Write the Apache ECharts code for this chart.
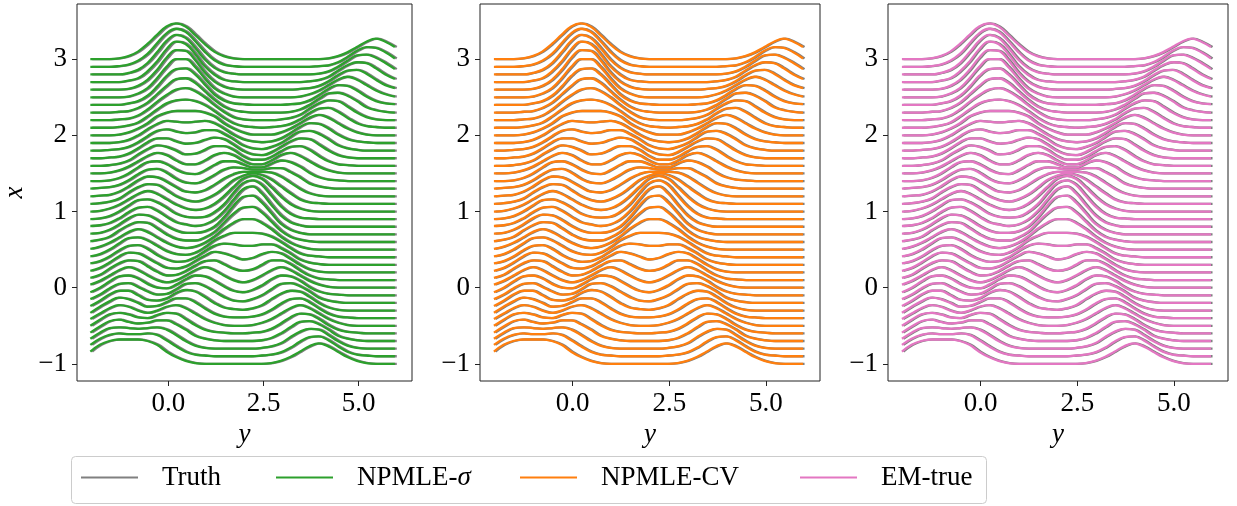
<!DOCTYPE html>
<html>
<head>
<meta charset="utf-8">
<script src="https://cdn.jsdelivr.net/npm/echarts@6/dist/echarts.min.js"></script>
<style>
html,body{margin:0;padding:0;background:#fff;}
#chart{width:1237px;height:506px;}
</style>
</head>
<body>
<div id="chart"></div>
<script>
// ---------------- data ----------------
// horizontal positions (the "y" variable) at which every curve is sampled
const yGrid = [-2,-1.75,-1.5,-1.25,-1,-0.75,-0.5,-0.25,0,0.25,0.5,0.75,1,1.25,1.5,1.75,2,2.25,2.5,2.75,3,3.25,3.5,3.75,4,4.25,4.5,4.75,5,5.25,5.5,5.75,6];
// baseline of every ridge curve (the "x" variable)
const xLevels = [-1,-0.9,-0.8,-0.7,-0.6,-0.5,-0.4,-0.3,-0.2,-0.1,0,0.1,0.2,0.3,0.4,0.5,0.6,0.7,0.8,0.9,1,1.1,1.2,1.3,1.4,1.5,1.6,1.7,1.8,1.9,2,2.1,2.2,2.3,2.4,2.5,2.6,2.7,2.8,2.9,3];
// true conditional density heights above each baseline, in hundredths (one row per curve, bottom to top)
const truthRows = [
[16,25,30,32,32,32,30,25,16,9,4,1,0,0,0,0,0,0,0,1,4,9,16,23,27,23,16,9,4,1,0,0,0],
[15,23,28,30,29,29,30,28,21,13,6,2,1,0,0,0,0,0,1,2,5,11,19,25,26,21,13,6,2,1,0,0,0],
[13,21,27,28,27,26,27,28,25,18,10,4,1,0,0,0,0,0,1,3,7,15,22,26,25,18,10,4,1,0,0,0,0],
[11,19,26,28,25,23,24,27,27,22,15,7,3,1,0,0,0,0,1,4,10,18,25,26,22,15,7,3,1,0,0,0,0],
[10,18,25,27,25,21,20,24,27,26,19,11,5,2,1,0,0,1,2,6,13,21,26,25,19,11,5,2,1,0,0,0,0],
[9,16,23,27,25,20,17,20,25,27,23,16,9,4,1,0,0,1,4,9,16,23,27,23,16,9,4,1,0,0,0,0,0],
[7,15,22,27,25,20,15,16,21,26,26,21,13,6,2,1,1,2,5,11,19,25,26,21,13,6,2,1,0,0,0,0,0],
[6,13,21,26,26,20,14,13,16,23,27,25,18,10,4,2,1,3,7,15,22,26,25,18,10,4,1,0,0,0,0,0,0],
[5,11,19,25,26,21,15,11,12,18,25,26,22,15,8,3,2,5,10,18,25,26,22,15,7,3,1,0,0,0,0,0,0],
[4,10,18,25,26,22,15,10,9,14,21,26,25,19,12,6,4,7,13,21,26,25,19,11,5,2,1,0,0,0,0,0,0],
[4,9,16,23,27,23,16,10,7,10,16,23,27,23,16,10,7,10,16,23,27,23,16,9,4,1,0,0,0,0,0,0,0],
[3,7,15,22,26,25,18,11,6,7,12,19,25,26,21,15,12,14,20,26,26,21,13,6,2,1,0,0,0,0,0,0,0],
[2,6,13,21,26,25,19,12,6,5,8,15,22,27,25,21,17,19,24,27,25,18,10,4,1,0,0,0,0,0,0,0,0],
[2,5,11,19,25,26,21,13,7,4,5,10,18,25,28,27,25,25,27,27,22,15,7,3,1,0,0,0,0,0,0,0,0],
[1,4,10,18,25,26,22,15,8,4,3,6,13,22,28,32,32,32,31,27,20,12,5,2,1,0,0,0,0,0,0,0,0],
[1,4,9,16,23,27,23,16,9,4,2,4,9,17,27,35,40,40,35,27,17,9,4,1,0,0,0,0,0,0,0,0,0],
[1,3,7,15,22,26,25,18,10,4,2,2,6,13,25,37,45,46,39,27,15,7,3,1,0,0,0,0,0,0,0,0,0],
[1,2,6,13,21,26,25,19,11,5,2,2,4,10,22,37,49,51,42,28,14,6,2,0,0,0,0,0,0,0,0,0,0],
[1,2,5,11,19,25,26,21,13,6,3,1,3,9,20,35,49,53,44,29,15,6,2,0,0,0,0,0,0,0,0,0,0],
[0,1,4,10,18,25,26,22,15,7,3,2,3,9,19,34,47,51,45,31,17,7,2,1,0,0,0,0,0,0,0,0,0],
[0,1,4,9,16,23,27,23,16,9,4,2,4,10,20,32,43,47,43,32,20,10,4,1,0,0,0,0,0,0,0,0,0],
[0,1,3,7,15,22,26,25,18,10,5,3,6,12,21,31,37,40,38,32,23,14,6,2,1,0,0,0,0,0,0,0,0],
[0,1,2,6,13,21,26,25,19,12,6,5,8,15,23,29,32,32,32,31,26,18,10,4,1,0,0,0,0,0,0,0,0],
[0,1,2,5,11,19,25,26,21,13,8,7,11,18,25,28,27,25,25,27,27,22,15,7,3,1,0,0,0,0,0,0,0],
[0,0,1,4,10,18,25,26,22,15,10,9,14,21,26,26,22,18,18,23,27,25,19,11,5,2,1,0,0,0,0,0,0],
[0,0,1,4,9,16,23,27,24,17,12,12,17,24,27,24,17,12,12,17,24,27,23,16,9,4,1,0,0,0,0,0,0],
[0,0,1,3,7,15,22,27,25,20,15,16,21,26,26,21,13,8,8,12,19,25,26,21,13,6,2,1,0,0,0,0,0],
[0,0,1,2,6,13,21,26,26,22,19,20,24,27,25,18,10,5,4,8,15,22,26,25,18,10,4,1,0,0,0,0,0],
[0,0,1,2,5,11,19,26,28,25,23,24,27,27,22,15,7,3,2,5,10,18,25,26,22,15,7,3,1,0,0,0,0],
[0,0,0,1,4,10,18,25,29,28,27,28,29,26,19,11,5,2,1,2,6,13,21,26,25,19,11,5,2,1,0,0,0],
[0,0,0,1,4,9,16,25,30,32,32,32,30,25,16,9,4,1,1,1,4,9,16,23,27,23,16,9,4,1,0,0,0],
[0,0,0,1,3,7,15,24,32,36,37,35,30,22,13,6,2,1,0,1,2,5,11,19,25,26,21,13,6,2,1,0,0],
[0,0,0,1,2,6,14,24,33,40,42,38,30,20,11,4,1,0,0,0,1,3,7,15,22,26,25,18,10,4,1,0,0],
[0,0,0,1,2,6,13,24,35,44,45,39,28,17,8,3,1,0,0,0,0,1,4,10,18,25,26,22,15,7,3,1,0],
[0,0,0,0,2,5,12,24,38,47,48,40,27,14,6,2,1,0,0,0,0,1,2,6,13,21,26,25,19,11,5,2,1],
[0,0,0,0,1,5,12,25,40,50,50,40,25,12,5,1,0,0,0,0,0,0,1,4,9,16,23,27,23,16,9,4,1],
[0,0,0,0,1,5,13,26,42,52,51,39,23,11,4,1,0,0,0,0,0,0,1,2,5,11,19,25,26,21,13,6,2],
[0,0,0,0,2,5,14,27,43,53,50,37,21,10,3,1,0,0,0,0,0,0,0,1,3,7,15,22,26,25,18,10,4],
[0,0,0,0,2,6,15,29,44,52,48,35,20,9,3,1,0,0,0,0,0,0,0,0,1,4,10,18,25,26,22,15,7],
[0,0,0,1,3,8,17,31,44,50,46,34,20,9,3,1,0,0,0,0,0,0,0,0,1,2,6,13,21,26,25,19,11],
[0,0,0,1,4,10,20,32,43,47,43,32,20,10,4,1,0,0,0,0,0,0,0,0,0,1,4,9,16,23,27,23,16]
];
// estimated curves sit slightly to the left of the truth (offset along y, per panel)
const fitOffsetY = [-0.05, -0.04, -0.04];
const estimatorNames = ['NPMLE-σ', 'NPMLE-CV', 'EM-true'];
const truthName = 'Truth';
const xTickValues = [0, 2.5, 5];
const yTickValues = [-1, 0, 1, 2, 3];

// ---------------- styles / layout ----------------
const estimatorColors = ['#2ca02c', '#ff7f0e', '#e377c2'];
const truthColor = '#808080';
const FONT = '"Liberation Serif", "Times New Roman", Times, serif';
const gridLefts = [72, 480, 888];
const legendLefts = [81, 276, 520, 800];

const chart = echarts.init(document.getElementById('chart'), null, {renderer: 'canvas'});

const grids = [], xAxes = [], yAxes = [], series = [];
gridLefts.forEach((left, p) => {
  grids.push({left: left, top: 4, width: 340, height: 377, show: true,
    borderColor: '#222', borderWidth: 1, backgroundColor: 'transparent', containLabel: false});
  xAxes.push({
    type: 'value', gridIndex: p, min: -2.4, max: 6.4,
    name: 'y', nameLocation: 'middle', nameGap: 38,
    nameTextStyle: {fontFamily: FONT, fontStyle: 'italic', fontSize: 27, color: '#000'},
    axisLine: {show: false, onZero: false},
    axisTick: {show: true, inside: false, length: 5, lineStyle: {color: '#222', width: 1}, customValues: xTickValues},
    axisLabel: {show: true, customValues: xTickValues, margin: 9, fontFamily: FONT, fontSize: 27, color: '#000',
      formatter: v => v.toFixed(1)},
    splitLine: {show: false}
  });
  yAxes.push({
    type: 'value', gridIndex: p, min: -1.225, max: 3.725,
    name: p === 0 ? 'x' : '', nameLocation: 'middle', nameGap: 49, nameRotate: 90,
    nameTextStyle: {fontFamily: FONT, fontStyle: 'italic', fontSize: 27, color: '#000'},
    axisLine: {show: false, onZero: false},
    axisTick: {show: true, inside: false, length: 5, lineStyle: {color: '#222', width: 1}, customValues: yTickValues},
    axisLabel: {show: true, customValues: yTickValues, margin: 10, fontFamily: FONT, fontSize: 27, color: '#000',
      formatter: v => (v < 0 ? '\u2212' + Math.abs(v) : String(v))},
    splitLine: {show: false}
  });
  xLevels.forEach((base, i) => {
    const row = truthRows[i];
    series.push({
      type: 'line', name: truthName, xAxisIndex: p, yAxisIndex: p,
      data: yGrid.map((y, k) => [y, base + row[k] / 100]),
      showSymbol: false, symbol: 'none', smooth: 0.4, silent: true, animation: false,
      color: truthColor, itemStyle: {color: truthColor},
      lineStyle: {color: truthColor, width: 2.3}
    });
    series.push({
      type: 'line', name: estimatorNames[p], xAxisIndex: p, yAxisIndex: p,
      data: yGrid.map((y, k) => [y + fitOffsetY[p], base + row[k] / 100]),
      showSymbol: false, symbol: 'none', smooth: 0.4, silent: true, animation: false,
      color: estimatorColors[p], itemStyle: {color: estimatorColors[p]},
      lineStyle: {color: estimatorColors[p], width: 2.3}
    });
  });
});

const legendNames = [truthName].concat(estimatorNames);
const legends = legendNames.map((nm, i) => ({
  data: [nm], left: legendLefts[i], top: 464, orient: 'horizontal', padding: 0,
  icon: 'rect', itemWidth: 57, itemHeight: 2, selectedMode: false, z: 10,
  formatter: n => (n === 'NPMLE-σ' ? '{a|NPMLE-}{b|σ}' : n),
  textStyle: {fontFamily: FONT, fontSize: 27, color: '#000', padding: [0, 0, 0, 19],
    rich: {a: {fontFamily: FONT, fontSize: 27, color: '#000'},
           b: {fontFamily: FONT, fontSize: 27, fontStyle: 'italic', color: '#000'}}}
}));

chart.setOption({
  backgroundColor: '#ffffff',
  animation: false,
  grid: grids,
  xAxis: xAxes,
  yAxis: yAxes,
  legend: legends,
  graphic: [{
    type: 'rect', z: 1, silent: true,
    shape: {x: 71.5, y: 456.5, width: 915, height: 47, r: 4},
    style: {fill: '#ffffff', stroke: '#cccccc', lineWidth: 1}
  }],
  series: series
});
</script>
</body>
</html>
